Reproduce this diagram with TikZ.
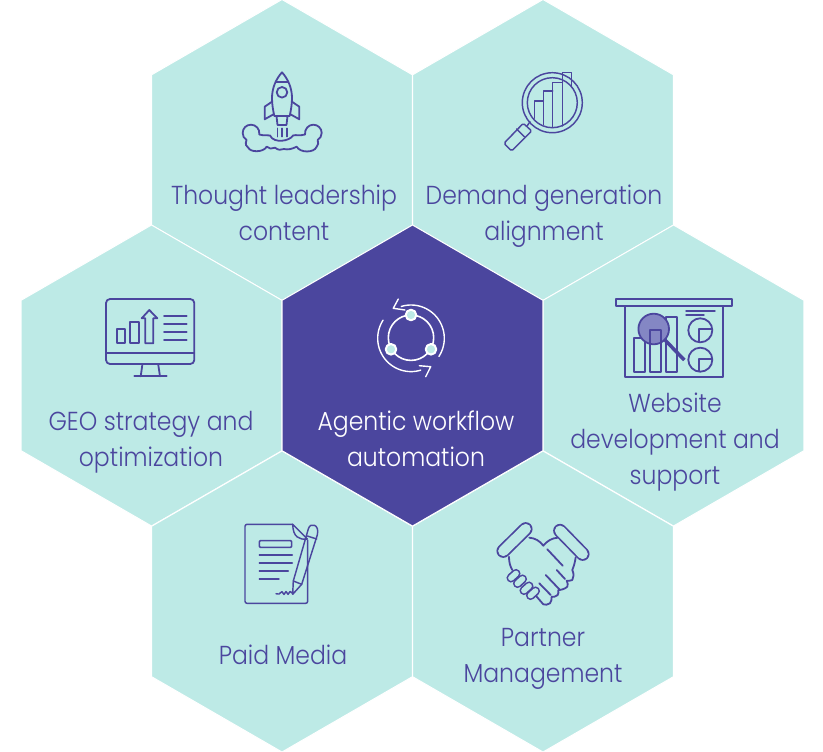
\documentclass[tikz,border=0pt]{standalone}
\usepackage{fontspec}
\setmainfont{Poppins}[UprightFont=* Light,FakeStretch=0.905]
\usepackage{tikz}
\usetikzlibrary{positioning}
\usetikzlibrary{shapes.geometric}
\definecolor{mint}{RGB}{189,234,230}
\definecolor{ink}{RGB}{75,70,158}
\definecolor{glass}{RGB}{132,135,196}
\tikzset{
  hexcell/.style    = { regular polygon, regular polygon sides=6, shape border rotate=30,
                        minimum size=301pt, inner sep=0pt, outer sep=0pt, draw=white, line width=1pt },
  outercell/.style  = { hexcell, fill=mint },
  corecell/.style   = { hexcell, fill=ink },
  caption/.style    = { align=center, text=ink, font=\fontsize{26}{36}\selectfont },
  corecaption/.style = { caption, text=white },
  icon/.style       = { draw=ink, line width=1.8pt, line join=round, line cap=round },
  thinicon/.style   = { icon, line width=1.45pt },
  coreicon/.style   = { draw=white, line width=1.4pt, line join=round, line cap=round },
}
\begin{document}
\begin{tikzpicture}[x=1pt,y=-1pt]
  \useasboundingbox (0,0) rectangle (823,752);

  \node (thought) [outercell] at (282,150)     {};
  \node (demand)  [outercell] at (543,150)     {};
  \node (geo)     [outercell] at (151.5,375.5) {};
  \node (website) [outercell] at (673.5,375.5) {};
  \node (paid)    [outercell] at (282,601.5)   {};
  \node (partner) [outercell] at (543,601.5)   {};
  \node (agentic) [corecell]  at (412.5,375.5) {};

  \node (thoughttext) [caption]     at (284,213) {Thought leadership\\content};
  \node (demandtext)  [caption]     at (544,216) {Demand generation\\alignment};
  \node (geotext)     [caption]     at (151,442) {GEO strategy and\\optimization};
  \node (websitetext) [caption]     at (675,442) {Website\\development and\\support};
  \node (paidtext)    [caption]     at (283,655) {Paid Media};
  \node (partnertext) [caption]     at (543,659) {Partner\\Management};
  \node (agentictext) [corecaption] at (416,439) {Agentic workflow\\automation};

  % rocket
  \draw [icon] (282,72.3) .. controls (276,79) and (272,88) .. (272,98)
        .. controls (272,104) and (273,110) .. (274.3,116) -- (289.7,116)
        .. controls (291,110) and (292,104) .. (292,98)
        .. controls (292,88) and (288,79) .. (282,72.3) -- cycle;
  \draw [icon] (276,82.3) -- (288,82.3);
  \draw [icon] (282,92.3) circle [radius=5.3];
  \draw [icon] (272,101.7) -- (264.7,106.7) -- (264.7,119.3) -- (273.5,114.3);
  \draw [icon] (292,101.7) -- (299.3,106.7) -- (299.3,119.3) -- (290.5,114.3);
  \draw [icon] (276.5,116) -- (277.5,125) -- (286.5,125) -- (287.5,116);
  \foreach \x in {277.3,282,287}
    \draw [thinicon] (\x,128.3) -- (\x,136.7);
  \draw [icon] (259.3,134.5) .. controls (260,129) and (256,124.7) .. (251,124.7)
        .. controls (246,124.7) and (242.7,128.5) .. (242.7,133)
        .. controls (242.7,136) and (244,138.5) .. (246.5,140)
        .. controls (245,144) and (246,147) .. (248.5,148)
        .. controls (250,152) and (263,153) .. (266.7,146.7)
        .. controls (269,149) and (272,149) .. (275,147.7)
        .. controls (278,150) and (281,150.5) .. (284,149)
        .. controls (288,150) and (292,149) .. (296.7,146.7)
        .. controls (300,153) and (314,153) .. (316.5,147)
        .. controls (318,145) and (319,143) .. (317.7,140)
        .. controls (320,138.5) and (321.7,136) .. (321.7,133)
        .. controls (321.7,128.5) and (318,124.7) .. (313.3,124.7)
        .. controls (308.5,124.7) and (304.5,129) .. (305,134.5)
        .. controls (300,136) and (296,134.5) .. (293,135.5)
        .. controls (290,141) and (274,144) .. (270,135.5)
        .. controls (267,134.5) and (264,136) .. (259.3,134.5) -- cycle;

  % magnifier over a chart
  \draw [thinicon] (552.3,102.7) circle [radius=30];
  \draw [thinicon] (552.3,102.7) circle [radius=25];
  \draw [thinicon] (534.3,118.3) -- (534.3,101) -- (543.3,101);
  \draw [thinicon] (543.3,124.5) -- (543.3,91) -- (552.7,91);
  \draw [thinicon] (552.7,127.5) -- (552.7,82.7) -- (562.3,82.7);
  \draw [thinicon] (562.3,126) -- (562.3,72.3) -- (571.7,72.3) -- (571.7,86.9);
  \draw [thinicon] (530,121.7) -- (527.3,125.7);
  \draw [thinicon,rounded corners=1.5pt] (523.3,123.3) -- (531.7,131) -- (511.7,151) -- (504,143.3) -- cycle;
  \draw [thinicon] (516.7,129) -- (524.3,136.7);

  % monitor
  \draw [icon,rounded corners=4pt] (106,299) rectangle (194.3,364);
  \draw [icon] (106,352.7) -- (194.3,352.7);
  \draw [icon] (142.3,365) -- (140.7,376.3);
  \draw [icon] (158.3,365) -- (160,376.3);
  \draw [icon] (134.3,376.3) -- (166.7,376.3);
  \draw [icon] (116.7,329) rectangle (125,343.3);
  \draw [icon] (130.3,321.7) rectangle (139,343.3);
  \draw [icon] (145.3,343.3) -- (145.3,318.3) -- (141.7,318.3) -- (149.3,310)
        -- (157.3,318.3) -- (153.3,318.3) -- (153.3,343.3) -- cycle;
  \foreach \y in {316,324,332,340}
    \draw [icon] (164,\y) -- (186.7,\y);

  % workflow cycle
  \draw [coreicon,line width=1.6pt] (411,337.7) circle [radius=22.7];
  \foreach \x/\y in {411/315,391/349.3,431/349.3}
    \draw [coreicon,line width=2pt,fill=mint] (\x,\y) circle [radius=5.3];
  \draw [coreicon] plot [domain=33:-107,samples=40,smooth] ({411+33.3*cos(\x)},{338.3+33.3*sin(\x)});
  \draw [coreicon] (398.3,299) -- (393.3,308.3) -- (405,310);
  \draw [coreicon] plot [domain=213:73,samples=40,smooth] ({411+33.3*cos(\x)},{338.3+33.3*sin(\x)});
  \draw [coreicon] (419.3,365.7) -- (430.7,366.7) -- (425.7,376.7);

  % report board
  \draw [icon] (616,299) rectangle (732.3,306.3);
  \draw [icon] (625,306.3) rectangle (723.3,377.3);
  \draw [icon] (634.3,337.7) rectangle (645,371.7);
  \draw [icon] (666,317) rectangle (676.7,371.7);
  \draw [icon,fill=glass] (653.7,329) circle [radius=15.3];
  \draw [icon] (650,330) rectangle (660.7,371.7);
  \draw [icon,line width=3.5pt,line cap=butt] (665,340) -- (684.3,360);
  \draw [thinicon] (686,311) -- (715,311);
  \draw [thinicon] (686,315) -- (704,315);
  \draw [icon] (700.3,330.3) circle [radius=12];
  \draw [icon] (699.3,341.7) -- (699.3,329.3) -- (712.3,329.3);
  \draw [icon] (700.3,359.7) circle [radius=12];
  \draw [icon] (699.3,371) -- (699.3,359) -- (712.3,359);

  % signed page
  \draw [thinicon,rounded corners=2pt] (292.7,524.3) -- (245,524.3) -- (245,603.3)
        -- (307.7,603.3) -- (307.7,540);
  \draw [thinicon] (292.7,524.3) -- (307.3,539)
        .. controls (299,540) and (293,537) .. (292.7,524.3);
  \draw [thinicon,rounded corners=1pt] (259.3,540.7) rectangle (291.7,547.3);
  \draw [thinicon] (259.3,555) -- (292.3,555);
  \draw [thinicon] (259.3,563) -- (292.3,563);
  \draw [thinicon] (259.3,571) -- (288.3,571);
  \draw [thinicon] (259.3,579) -- (279,579);
  \draw [thinicon] (292.7,594.3) -- (293.3,581) -- (308.3,529)
        .. controls (310,522) and (320,524) .. (317.3,535) -- (301.7,584.3) -- cycle;
  \draw [thinicon] (293.3,581) -- (301.7,584.3);
  \draw [thinicon] (307.3,536) -- (316.7,539);
  \draw [thinicon] plot [smooth] coordinates {(276,593.7) (279,594) (282,591.7) (284,594.5)
        (286,591.5) (288,594.3) (290,591.5) (292,593)};

  % handshake
  \draw [icon] (529.3,537.7) .. controls (535,538) and (540,541) .. (543.3,545.7)
        .. controls (547,541) and (552,538) .. (557.7,537.7);
  \draw [icon] (509,556.7) .. controls (509,562) and (510,566) .. (512.3,570);
  \draw [icon] (575.7,557.3) .. controls (575,562) and (574,566) .. (572.3,570)
        .. controls (574,574) and (574,577) .. (572.3,580)
        .. controls (570,581) and (568,581) .. (566.7,580.7)
        .. controls (568,583) and (568,585) .. (567.3,586.7)
        .. controls (565,589) and (561,590) .. (558.3,590)
        .. controls (558.5,592) and (558.5,594) .. (557.7,595)
        .. controls (556,597) and (553,597) .. (551.7,596.7)
        .. controls (552,599) and (551,602) .. (550,603.3)
        .. controls (548,605) and (545,605) .. (543.3,604.3) -- (536.7,596.7);
  \foreach \xa/\ya/\xb/\yb/\r in {503.3/551/525.7/529/6,560/530.7/582.7/554/6,
        511/578/516/573.5/3.7,517.5/583.5/522.5/579/3.7,
        524/590.5/529/586/3.7,530.5/595.5/535.5/591/3.7} {
    \draw [ink,line width=2*\r pt+1.7pt,line cap=round] (\xa,\ya) -- (\xb,\yb);
    \draw [mint,line width=2*\r pt-1.7pt,line cap=round] (\xa,\ya) -- (\xb,\yb);
  }
  \draw [icon] (547.3,549.3) -- (562.7,565.7);
  \draw [icon] (556.7,570) -- (565,579);
  \draw [icon] (545.7,575) -- (560,590);
  \draw [icon] (539.3,583.3) -- (550.7,595);
\end{tikzpicture}
\end{document}
